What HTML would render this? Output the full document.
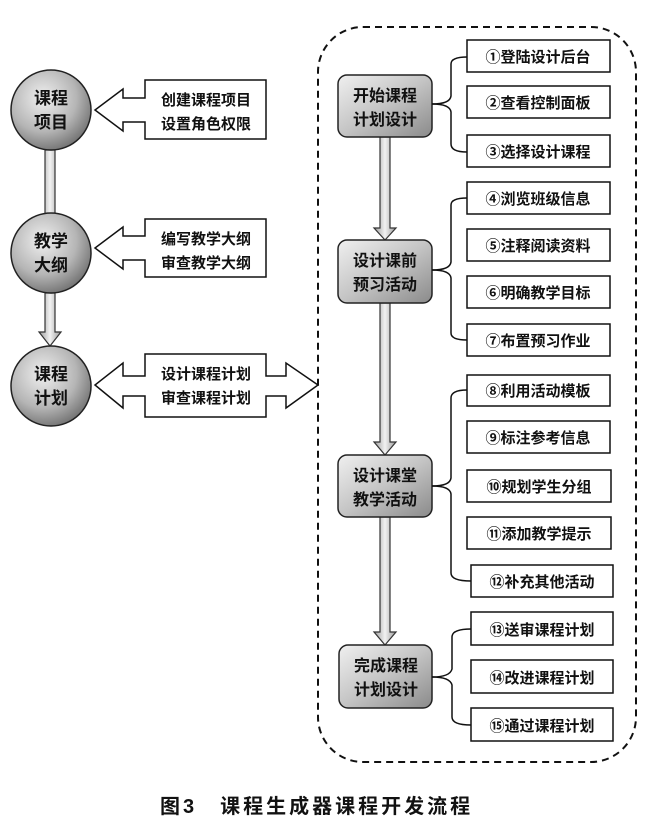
<!DOCTYPE html>
<html><head><meta charset="utf-8">
<style>
html,body{margin:0;padding:0;background:#fff;}
svg{display:block;}
text{font-family:"Liberation Sans","Noto Sans CJK SC","WenQuanYi Zen Hei",sans-serif;font-weight:bold;}
</style></head>
<body>
<svg width="658" height="829" viewBox="0 0 658 829" xmlns="http://www.w3.org/2000/svg">
<defs>
<radialGradient id="cg" cx="0.4" cy="0.35" r="0.7">
<stop offset="0" stop-color="#f0f0f0"/><stop offset="0.6" stop-color="#b5b5b5"/><stop offset="1" stop-color="#6e6e6e"/>
</radialGradient>
<linearGradient id="bg" x1="0" y1="0" x2="1" y2="1">
<stop offset="0" stop-color="#f0f0f0"/><stop offset="0.5" stop-color="#c4c4c4"/><stop offset="1" stop-color="#8a8a8a"/>
</linearGradient>
<linearGradient id="ag" x1="0" y1="0" x2="1" y2="0">
<stop offset="0" stop-color="#9a9a9a"/><stop offset="0.5" stop-color="#f2f2f2"/><stop offset="1" stop-color="#9a9a9a"/>
</linearGradient>
</defs>
<rect width="658" height="829" fill="#fff"/>

<rect x="318" y="27" width="318" height="735" rx="45" fill="none" stroke="#111" stroke-width="2" stroke-dasharray="7,5"/>

<g fill="url(#ag)" stroke="#333" stroke-width="1.2">
<path d="M45,150 L55,150 L55,218 L61,218 L50,232 L39,218 L45,218 Z"/>
<path d="M45,293 L55,293 L55,332 L61,332 L50,346 L39,332 L45,332 Z"/>
</g>
<g stroke="#222" stroke-width="1.5" fill="url(#cg)">
<circle cx="51" cy="110" r="40"/>
<circle cx="51" cy="253" r="40"/>
<circle cx="51" cy="386" r="40"/>
</g>
<g font-size="17" fill="#111" text-anchor="middle">
<text x="51" y="104">课程</text><text x="51" y="128">项目</text>
<text x="51" y="247">教学</text><text x="51" y="271">大纲</text>
<text x="51" y="380">课程</text><text x="51" y="404">计划</text>
</g>

<g fill="#fff" stroke="#111" stroke-width="1.5">
<path d="M145,80 L266,80 L266,139 L145,139 L145,122 L123,122 L123,131 L95,110 L123,89 L123,98 L145,98 Z"/>
<path d="M145,219 L266,219 L266,277 L145,277 L145,260 L123,260 L123,269 L95,248 L123,227 L123,236 L145,236 Z"/>
<path d="M145,354 L266,354 L266,376 L286,376 L286,363 L318,385 L286,408 L286,396 L266,396 L266,417 L145,417 L145,396 L123,396 L123,408 L95,385 L123,363 L123,376 L145,376 Z"/>
</g>
<g font-size="15" fill="#111" text-anchor="middle">
<text x="206" y="105">创建课程项目</text><text x="206" y="129">设置角色权限</text>
<text x="206" y="244">编写教学大纲</text><text x="206" y="268">审查教学大纲</text>
<text x="206" y="379">设计课程计划</text><text x="206" y="403">审查课程计划</text>
</g>

<g fill="url(#ag)" stroke="#333" stroke-width="1.2">
<path d="M380,137 L390,137 L390,228 L396,228 L385,240 L374,228 L380,228 Z"/>
<path d="M380,303 L390,303 L390,442 L396,442 L385,455 L374,442 L380,442 Z"/>
<path d="M380,517 L390,517 L390,632 L396,632 L385,645 L374,632 L380,632 Z"/>
</g>
<g fill="url(#bg)" stroke="#222" stroke-width="1.5">
<rect x="338" y="75" width="94" height="62" rx="9"/>
<rect x="338" y="240" width="94" height="63" rx="9"/>
<rect x="338" y="455" width="94" height="62" rx="9"/>
<rect x="339" y="645" width="93" height="63" rx="9"/>
</g>
<g font-size="16" fill="#111" text-anchor="middle">
<text x="385" y="101">开始课程</text><text x="385" y="125">计划设计</text>
<text x="385" y="266">设计课前</text><text x="385" y="290">预习活动</text>
<text x="385" y="481">设计课堂</text><text x="385" y="505">教学活动</text>
<text x="386" y="671">完成课程</text><text x="386" y="695">计划设计</text>
</g>

<g fill="none" stroke="#111" stroke-width="1.5">
<path d="M432,104 Q450,104 451,96 L451,64 Q451,57 467,57"/>
<path d="M432,104 Q450,104 451,112 L451,144 Q451,152 467,152"/>
<path d="M432,270 Q450,270 451,262 L451,205 Q451,198 467,198"/>
<path d="M432,270 Q450,270 451,278 L451,333 Q451,340 467,340"/>
<path d="M432,486 Q450,486 451,478 L451,398 Q451,390 467,390"/>
<path d="M432,486 Q450,486 451,494 L451,573 Q451,581 471,581"/>
<path d="M432,677 Q450,677 452,669 L452,637 Q452,629 471,629"/>
<path d="M432,677 Q450,677 452,685 L452,717 Q452,725 471,725"/>
</g>

<g fill="#fff" stroke="#111" stroke-width="1.5">
<rect x="467" y="40" width="143" height="32"/>
<rect x="467" y="86" width="143" height="32"/>
<rect x="467" y="135" width="143" height="32"/>
<rect x="467" y="182" width="143" height="32"/>
<rect x="467" y="229" width="143" height="32"/>
<rect x="467" y="276" width="143" height="32"/>
<rect x="467" y="324" width="143" height="32"/>
<rect x="467" y="375" width="143" height="31"/>
<rect x="467" y="421" width="143" height="32"/>
<rect x="467" y="470" width="144" height="32"/>
<rect x="467" y="517" width="144" height="32"/>
<rect x="471" y="565" width="142" height="32"/>
<rect x="471" y="612" width="142" height="33"/>
<rect x="471" y="660" width="142" height="33"/>
<rect x="471" y="708" width="142" height="33"/>
</g>
<g font-size="15" fill="#111" text-anchor="middle">
<text x="538" y="62">①登陆设计后台</text>
<text x="538" y="108">②查看控制面板</text>
<text x="538" y="157">③选择设计课程</text>
<text x="538" y="204">④浏览班级信息</text>
<text x="538" y="251">⑤注释阅读资料</text>
<text x="538" y="298">⑥明确教学目标</text>
<text x="538" y="346">⑦布置预习作业</text>
<text x="538" y="396">⑧利用活动模板</text>
<text x="538" y="443">⑨标注参考信息</text>
<text x="539" y="492">⑩规划学生分组</text>
<text x="539" y="539">⑪添加教学提示</text>
<text x="542" y="587">⑫补充其他活动</text>
<text x="542" y="635">⑬送审课程计划</text>
<text x="542" y="683">⑭改进课程计划</text>
<text x="542" y="731">⑮通过课程计划</text>
</g>

<text x="160" y="813" font-size="20" fill="#111" letter-spacing="3">图3　课程生成器课程开发流程</text>
</svg>
</body></html>
